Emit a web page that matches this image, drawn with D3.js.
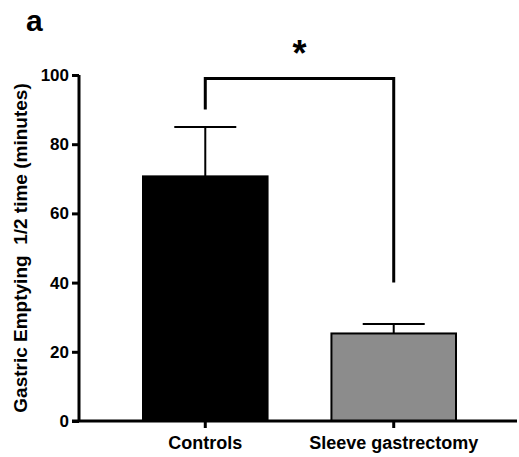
<!DOCTYPE html>
<html>
<head>
<meta charset="utf-8">
<script src="https://cdn.jsdelivr.net/npm/d3@7"></script>
<style>
  body { margin: 0; background: #fff; }
  svg { display: block; font-family: "Liberation Sans", Arial, sans-serif; font-weight: bold; }
</style>
</head>
<body>
<svg id="chart" width="519" height="457"></svg>
<script>
// data
const groups = ["Controls", "Sleeve gastrectomy"];
const means = [70.7, 25.3];
const errTop = [85.0, 28.0];
const barColors = ["#000000", "#8c8c8c"];
const yTicks = [0, 20, 40, 60, 80, 100];
// significance bracket: left leg bottom, top, right leg bottom
const bracket = [90, 99, 40];

const svg = d3.select("#chart");

const y = d3.scaleLinear().domain([0, 100]).range([421, 75]);
const x = d3.scaleBand().domain(groups).range([143, 456]).paddingInner(0.339).paddingOuter(0);
const cx = d => x(d) + x.bandwidth() / 2;

// bars
svg.selectAll("rect.bar").data(groups).enter().append("rect")
    .attr("class", "bar")
    .attr("x", d => x(d))
    .attr("y", (d, i) => y(means[i]))
    .attr("width", x.bandwidth())
    .attr("height", (d, i) => y(0) - y(means[i]))
    .attr("fill", (d, i) => barColors[i])
    .attr("stroke", "#000")
    .attr("stroke-width", 2);

// error bars (upper only)
let err = svg.selectAll("g.err").data(groups).enter().append("g").attr("class", "err");
err.append("line")
    .attr("x1", d => cx(d)).attr("x2", d => cx(d))
    .attr("y1", (d, i) => y(means[i])).attr("y2", (d, i) => y(errTop[i]))
    .attr("stroke", "#000").attr("stroke-width", 2);
err.append("line")
    .attr("x1", d => cx(d) - 31).attr("x2", d => cx(d) + 31)
    .attr("y1", (d, i) => y(errTop[i])).attr("y2", (d, i) => y(errTop[i]))
    .attr("stroke", "#000").attr("stroke-width", 2);

// y axis
let yAxis = d3.axisLeft(y).tickValues(yTicks).tickSize(7).tickPadding(3);
let gy = svg.append("g").attr("transform", "translate(79,0)").call(yAxis);
gy.select(".domain").attr("d", "M0," + y(0) + "V" + y(100)).attr("stroke-width", 3);
gy.selectAll(".tick line").attr("stroke-width", 3);
gy.selectAll(".tick text").attr("font-size", 17).attr("font-family", null).attr("fill", "#000");

// x axis
let xAxis = d3.axisBottom(x).tickSize(7).tickPadding(8);
let gx = svg.append("g").attr("transform", "translate(0," + y(0) + ")").call(xAxis);
gx.select(".domain").attr("d", "M72,0H517").attr("stroke-width", 3);
gx.selectAll(".tick line").attr("stroke-width", 3);
gx.selectAll(".tick text").attr("font-size", 18).attr("font-family", null).attr("fill", "#000");

// y axis title
svg.append("text")
    .attr("transform", "translate(27,248) rotate(-90)")
    .attr("text-anchor", "middle")
    .attr("font-size", 19)
    .style("white-space", "pre")
    .text("Gastric Emptying  1/2 time (minutes)");

// significance bracket
svg.append("path")
    .attr("d", "M" + cx(groups[0]) + "," + y(bracket[0]) +
               "V" + y(bracket[1]) +
               "H" + cx(groups[1]) +
               "V" + y(bracket[2]))
    .attr("fill", "none").attr("stroke", "#000").attr("stroke-width", 3);

svg.append("text")
    .attr("x", (cx(groups[0]) + cx(groups[1])) / 2)
    .attr("y", 66)
    .attr("text-anchor", "middle")
    .attr("font-size", 36)
    .text("*");

// panel letter
svg.append("text")
    .attr("x", 26).attr("y", 31)
    .attr("font-size", 30)
    .text("a");
</script>
</body>
</html>
